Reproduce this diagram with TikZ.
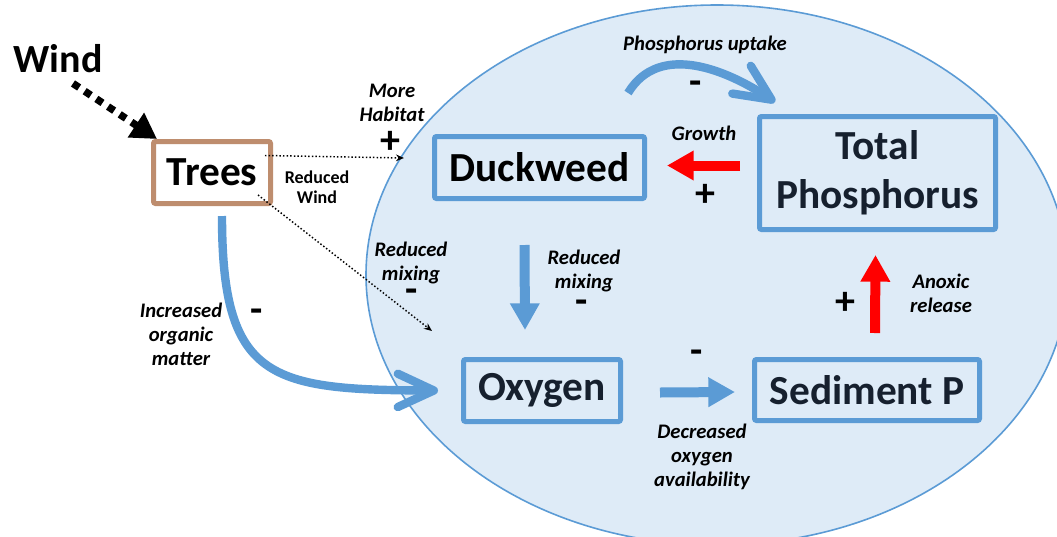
\documentclass[tikz,border=0pt]{standalone}
\usepackage{fontspec}
\setmainfont{Carlito}
\usetikzlibrary{arrows.meta,calc}
\definecolor{accblue}{RGB}{91,155,213}
\definecolor{lakefill}{RGB}{222,235,247}
\definecolor{treebrown}{RGB}{190,141,110}
\definecolor{navy}{RGB}{22,32,46}
\definecolor{redarr}{RGB}{255,0,0}
\begin{document}
\begin{tikzpicture}[x=0.75pt,y=-0.75pt,
  bigtxt/.style={font=\fontsize{31}{37}\selectfont\bfseries},
  boxnode/.style={draw=accblue, line width=3.75pt, rounded corners=1.5pt, bigtxt, text=navy, align=center, inner sep=0pt},
  lbl/.style={font=\fontsize{15.5}{18}\selectfont\bfseries\itshape, align=center, inner sep=0pt},
  smalllbl/.style={font=\fontsize{13.5}{15}\selectfont\bfseries, align=center, inner sep=0pt},
  sign/.style={font=\fontsize{30}{30}\selectfont\bfseries, inner sep=0pt},
  minus/.style={sign, text height=10pt, text depth=-6pt},
  thindot/.style={line width=1.1pt, dash pattern=on 1.1pt off 1.6pt, -{Stealth[length=6pt,width=5pt]}},
  winddot/.style={line width=5.5pt, dash pattern=on 5.5pt off 5pt, -{Triangle[length=19pt,width=21pt]}},
  bluestraight/.style={accblue, line width=7.5pt, -{Triangle[length=20pt,width=21pt]}},
  redstraight/.style={redarr, line width=7.5pt, -{Triangle[length=20pt,width=21pt]}},
  bluecurve/.style={accblue, line width=6.3pt, -{Straight Barb[length=27pt,width=25pt,round]}}
]
\useasboundingbox (0,0) rectangle (1057,536);
\begin{scope}
  \clip (0,0) rectangle (1057,536);
  \fill[lakefill] (717,275) ellipse [x radius=351, y radius=270];
  \draw[accblue, line width=1.2pt] (717,275) ellipse [x radius=351, y radius=270];
\end{scope}

% nodes
\node[inner sep=0pt, font=\fontsize{30}{36}\selectfont\bfseries] (wind) at (58,59) {Wind};
\node[draw=treebrown, fill=white, line width=3.75pt, rounded corners=1.5pt, bigtxt, inner sep=0pt,
      minimum width={117*0.75pt}, minimum height={62*0.75pt}] (trees) at (212,172.5) {Trees};
\node[boxnode, text=black, minimum width={210*0.75pt}, minimum height={62*0.75pt}] (duck) at (539.5,167.5) {Duckweed};
\node[boxnode, minimum width={236*0.75pt}, minimum height={113*0.75pt}] (tp) at (877.5,173) {Total\\Phosphorus};
\node[boxnode, minimum width={157*0.75pt}, minimum height={62*0.75pt}] (oxy) at (542,390.5) {Oxygen};
\node[boxnode, minimum width={225*0.75pt}, minimum height={61*0.75pt}] (sed) at (867,390) {Sediment P};

% labels
\node[lbl] (lupt) at (705,45) {Phosphorus uptake};
\node[lbl] (lgro) at (704,133) {Growth};
\node[lbl] (lhab) at (392,103) {More\\Habitat};
\node[smalllbl] (lwind) at (317,187) {Reduced\\Wind};
\node[lbl] (lmix1) at (411,263) {Reduced\\mixing};
\node[lbl] (lmix2) at (584,271) {Reduced\\mixing};
\node[lbl] (lorg) at (181,334) {Increased\\organic\\matter};
\node[lbl] (ldec) at (702,457) {Decreased\\oxygen\\availability};
\node[lbl] (lanox) at (941,293) {Anoxic\\release};

% signs
\node[sign] (s1) at (390,142) {+};
\node[minus] (s2) at (412,296) {-};
\node[minus] (s3) at (582,307) {-};
\node[minus] (s4) at (257,316) {-};
\node[minus] (s5) at (696,88) {-};
\node[sign] (s6) at (705,195) {+};
\node[minus] (s7) at (697,357) {-};
\node[sign] (s8) at (845,303) {+};

% free ends
\coordinate (habend) at (404,158);
\coordinate (mixend) at (432,331);

% connectors
\draw[winddot] ($(wind.south)+(15,10)$) -- ($(trees.north west)+(6,0)$);
\draw[thindot] ($(trees.east)+(-8,-17)$) -- (habend);
\draw[thindot] ($(trees.south east)+(-15,-11)$) -- (mixend);
\draw[bluecurve] ($(trees.south)+(10,10)$) .. controls (222,380) and (270,390) .. ($(oxy.west)+(-23,0)$);
\draw[bluecurve] ($(duck.north east)+(-19,-41)$) .. controls (660,40) and (730,72) .. ($(tp.north west)+(18,-12)$);
\draw[redstraight] ($(tp.west |- duck.east)+(-17,-2)$) -- ($(duck.east)+(20,-2)$);
\draw[bluestraight] ($(duck.south)+(-15,44)$) -- ($(oxy.north)+(-17,-27)$);
\draw[bluestraight] ($(oxy.east)+(37,2)$) -- ($(sed.west)+(-17,2)$);
\draw[redstraight] ($(sed.north)+(8,-24)$) -- ($(tp.south)+(-2,23)$);
\end{tikzpicture}
\end{document}
